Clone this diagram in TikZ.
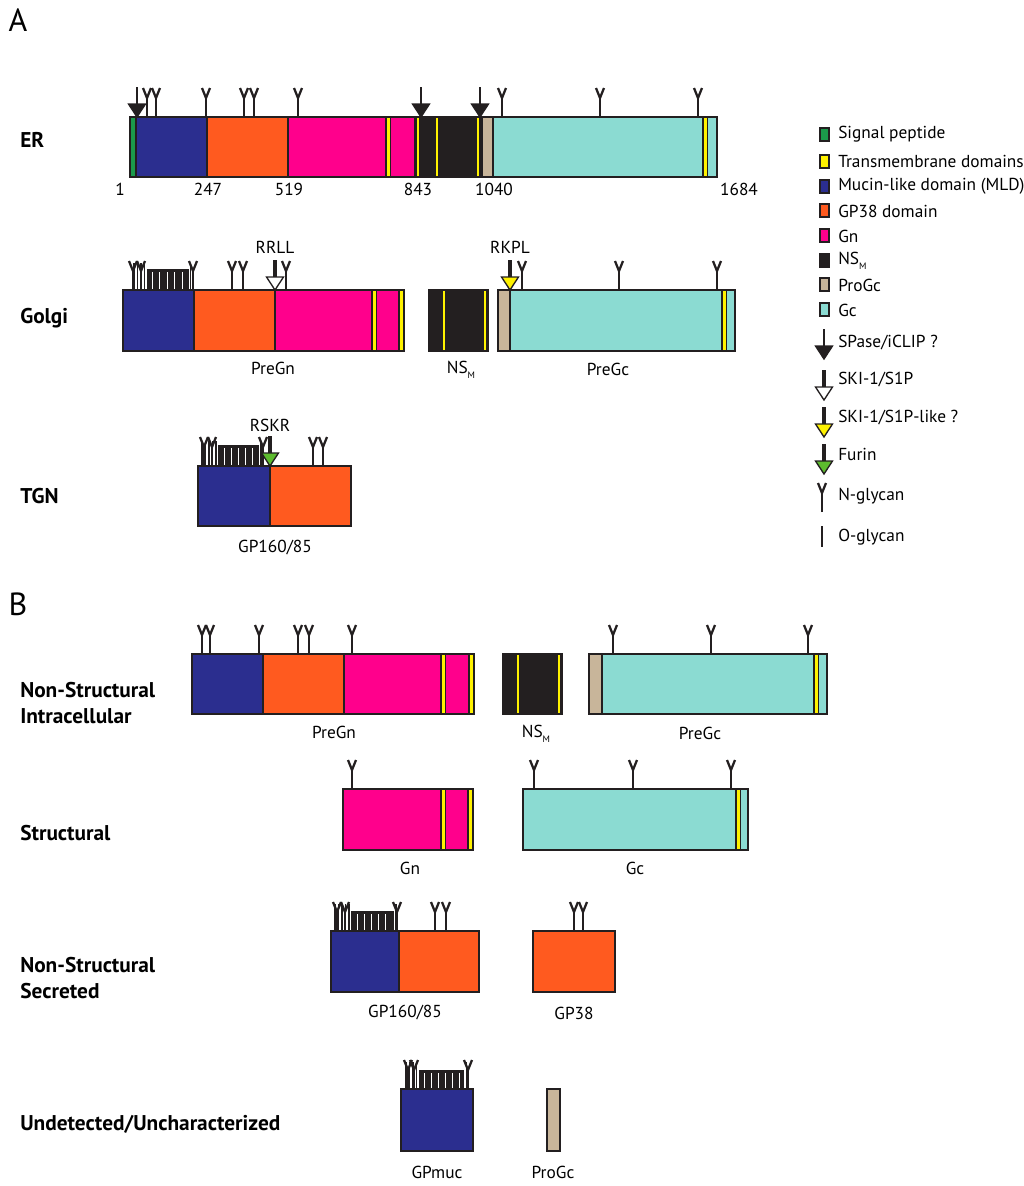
\documentclass[tikz,border=0pt]{standalone}
\usepackage{fontspec}
\setmainfont{PT Sans}
\definecolor{cgreen}{HTML}{1B9A4B}
\definecolor{cyel}{HTML}{FFF200}
\definecolor{cblue}{HTML}{2B2E8F}
\definecolor{corange}{HTML}{FF5A1F}
\definecolor{cpink}{HTML}{FF008C}
\definecolor{cblack}{HTML}{231F20}
\definecolor{ctan}{HTML}{C8B59A}
\definecolor{ccyan}{HTML}{8BDBD2}
\definecolor{cfurin}{HTML}{5DBB2E}
% N-glycan: x, bar top
\newcommand{\Ng}[2]{\draw[glyc] (#1,#2) -- (#1,#2-19);\draw[glyc,line join=miter] (#1-4,#2-29) -- (#1,#2-19) -- (#1+4,#2-29);}
% O-glycan: x, bar top, height
\newcommand{\Og}[3]{\draw[ogl] (#1,#2) -- (#1,#2-#3);}
% dense O-glycan block: x0, x1, bar top, block top, gap list
\newcommand{\Oblock}[5]{\fill[cblack] (#1,#3) rectangle (#2,#4);\foreach \g in {#5} {\draw[white,line width=0.4pt] (\g,#4+3) -- (\g,#3-1);}}
% transmembrane: x, top, bottom
\newcommand{\TM}[3]{\fill[cblack] (#1-3,#2) rectangle (#1+3,#3);\fill[cyel] (#1-1.5,#2) rectangle (#1+1.5,#3);}
% yellow line in black region
\newcommand{\TY}[3]{\fill[cyel] (#1-1.1,#2+1) rectangle (#1+1.1,#3-1);}
% cleavage arrow: x, bar top, fill colour, stem width
\newcommand{\Cl}[4]{\draw[line width=#4,cblack] (#1,#2-30) -- (#1,#2-11);\draw[fill=#3,draw=cblack,line width=1pt,line join=miter] (#1-8.5,#2-13) -- (#1+8.5,#2-13) -- (#1,#2) -- cycle;}
\newcommand{\NSM}{NS\raisebox{-0.6ex}{\fontsize{7}{8}\selectfont M}}
\begin{document}
\begin{tikzpicture}[x=0.75pt,y=-0.75pt,
  seg/.style={draw=cblack,line width=1.5pt},
  glyc/.style={draw=cblack,line width=1.7pt},
  ogl/.style={draw=cblack,line width=1.4pt},
  txt/.style={font=\fontsize{13}{15}\selectfont,inner sep=0pt},
  rowlab/.style={font=\fontsize{16}{19}\selectfont\bfseries,inner sep=0pt,anchor=west,align=left},
  panel/.style={font=\fontsize{24}{26}\selectfont,inner sep=0pt},
  legbox/.style={draw=cblack,line width=1.2pt}]
\useasboundingbox (0,0) rectangle (1024,1186);

% panel letters
\node[panel] (pA) at (18,20) {A};
\node[panel] (pB) at (18,604) {B};

% row labels
\node[rowlab] (lER) at (20,140) {ER};
\node[rowlab] (lGolgi) at (20,318) {Golgi};
\node[rowlab] (lTGN) at (20,496) {TGN};
\node[rowlab] (lNSI) at (20,703) {Non-Structural\\Intracellular};
\node[rowlab] (lS) at (20,833) {Structural};
\node[rowlab] (lNSS) at (20,978) {Non-Structural\\Secreted};
\node[rowlab] (lU) at (20,1124) {Undetected/Uncharacterized};

% ================= ER =================
\draw[seg,fill=cgreen] (130,117) rectangle (136,177);
\draw[seg,fill=cblue] (136,117) rectangle (207,177);
\draw[seg,fill=corange] (207,117) rectangle (288,177);
\draw[seg,fill=cpink] (288,117) rectangle (415,177);
\draw[seg,fill=cblack] (415,117) rectangle (482,177);
\draw[seg,fill=ctan] (482,117) rectangle (493,177);
\draw[seg,fill=ccyan] (493,117) rectangle (717,177);
\TM{388}{118}{176}
\TM{705}{118}{176}
\TY{418}{117}{177}
\TY{437}{117}{177}
\TY{478}{117}{177}
\foreach \x in {147,156,206,244,254,298,502,600,698} {\Ng{\x}{117}}
\Cl{137}{117}{cblack}{1.5pt}
\Cl{421}{117}{cblack}{1.5pt}
\Cl{480}{117}{cblack}{1.5pt}
\node[txt] (n1) at (120,189) {1};
\node[txt] (n247) at (208,189) {247};
\node[txt] (n519) at (289,189) {519};
\node[txt] (n843) at (418,189) {843};
\node[txt] (n1040) at (494,189) {1040};
\node[txt] (n1684) at (739,189) {1684};

% ================= Golgi =================
\foreach \x in {134,137.5,141,144.5} {\Og{\x}{290}{27}}
\Oblock{146.5}{189}{290}{269}{152,159,167,174,182}
\Og{190.5}{290}{27}
\Ng{133}{290}\Ng{141}{290}\Ng{193}{290}
\draw[seg,fill=cblue] (123,290) rectangle (194,351);
\draw[seg,fill=corange] (194,290) rectangle (275,351);
\draw[seg,fill=cpink] (275,290) rectangle (404,351);
\TM{374}{291}{350}
\TM{401}{291}{350}
\foreach \x in {232,243,286,522,619,717} {\Ng{\x}{290}}
\Cl{275}{290}{white}{3pt}
\node[txt] (rrll) at (275,247) {RRLL};
\draw[seg,fill=cblack] (429,290) rectangle (488,351);
\TY{444}{290}{351}
\TY{485}{290}{351}
\draw[seg,fill=ctan] (498,290) rectangle (510,351);
\draw[seg,fill=ccyan] (510,290) rectangle (735,351);
\TM{724}{291}{350}
\Cl{510}{290}{cyel}{3pt}
\node[txt] (rkpl) at (510,247) {RKPL};
\node[txt] (gPreGn) at (273,368) {PreGn};
\node[txt] (gNSM) at (461,370) {\NSM};
\node[txt] (gPreGc) at (608,369) {PreGc};

% ================= TGN =================
\foreach \x in {202,205.5,209,212.5,216} {\Og{\x}{466}{25}}
\Oblock{218}{259}{466}{445}{224,231,238,245,252}
\Og{261}{466}{25}
\Ng{204}{466}\Ng{212}{466}\Ng{263}{466}
\draw[seg,fill=cblue] (198,466) rectangle (270,526);
\draw[seg,fill=corange] (270,466) rectangle (351,526);
\Ng{313}{466}\Ng{323}{466}
\Cl{270}{466}{cfurin}{3pt}
\node[txt] (rskr) at (270,425) {RSKR};
\node[txt] (tGP) at (275,548) {GP160/85};

% ================= Legend =================
\draw[legbox,fill=cgreen] (820,128) rectangle (829,141);
\draw[legbox,fill=cyel] (820,155) rectangle (829,168);
\draw[legbox,fill=cblue] (820,180) rectangle (829,193);
\draw[legbox,fill=corange] (820,204) rectangle (829,217);
\draw[legbox,fill=cpink] (820,229) rectangle (829,242);
\draw[legbox,fill=cblack] (820,254) rectangle (829,267);
\draw[legbox,fill=ctan] (820,278) rectangle (829,291);
\draw[legbox,fill=ccyan] (820,303) rectangle (829,316);
\node[txt,anchor=west] (lg1) at (838,134) {Signal peptide};
\node[txt,anchor=west] (lg2) at (838,161) {Transmembrane domains};
\node[txt,anchor=west] (lg3) at (838,186) {Mucin-like domain (MLD)};
\node[txt,anchor=west] (lg4) at (838,211) {GP38 domain};
\node[txt,anchor=west] (lg5) at (838,236) {Gn};
\node[txt,anchor=west] (lg6) at (838,261) {\NSM};
\node[txt,anchor=west] (lg7) at (838,285) {ProGc};
\node[txt,anchor=west] (lg8) at (838,310) {Gc};
\Cl{824}{359}{cblack}{1.5pt}
\Cl{824}{400}{white}{3pt}
\Cl{824}{437}{cyel}{3pt}
\Cl{824}{474}{cfurin}{3pt}
\Ng{822}{512}
\draw[glyc] (822,526) -- (822,547);
\node[txt,anchor=west] (lg9) at (838,343) {SPase/iCLIP ?};
\node[txt,anchor=west] (lg10) at (838,380) {SKI-1/S1P};
\node[txt,anchor=west] (lg11) at (838,418) {SKI-1/S1P-like ?};
\node[txt,anchor=west] (lg12) at (838,454) {Furin};
\node[txt,anchor=west] (lg13) at (838,496) {N-glycan};
\node[txt,anchor=west] (lg14) at (838,537) {O-glycan};

% ================= B: intracellular =================
\draw[seg,fill=cblue] (192,654) rectangle (263,714);
\draw[seg,fill=corange] (263,654) rectangle (344,714);
\draw[seg,fill=cpink] (344,654) rectangle (474,714);
\TM{443}{655}{713}
\TM{471}{655}{713}
\foreach \x in {202,210,259,298,309,352} {\Ng{\x}{654}}
\draw[seg,fill=cblack] (503,654) rectangle (562,714);
\TY{518}{654}{714}
\TY{559}{654}{714}
\draw[seg,fill=ctan] (589,654) rectangle (602,714);
\draw[seg,fill=ccyan] (602,654) rectangle (827,714);
\TM{816}{655}{713}
\foreach \x in {613,711,808} {\Ng{\x}{654}}
\node[txt] (bPreGn) at (334,732) {PreGn};
\node[txt] (bNSM) at (536,734) {\NSM};
\node[txt] (bPreGc) at (700,733) {PreGc};

% ================= B: structural =================
\draw[seg,fill=cpink] (343,789) rectangle (473,850);
\TM{443}{790}{849}
\TM{470}{790}{849}
\Ng{352}{789}
\draw[seg,fill=ccyan] (523,789) rectangle (748,850);
\TM{738}{790}{849}
\foreach \x in {534,633,731} {\Ng{\x}{789}}
\node[txt] (bGn) at (410,868) {Gn};
\node[txt] (bGc) at (635,868) {Gc};

% ================= B: secreted =================
\foreach \x in {335,338.5,342,345.5,349} {\Og{\x}{931}{27}}
\Oblock{351}{394}{931}{911}{357,364,371,378,385}
\Og{396}{931}{27}
\Ng{337}{931}\Ng{345}{931}\Ng{397}{931}
\draw[seg,fill=cblue] (331,931) rectangle (399,992);
\draw[seg,fill=corange] (399,931) rectangle (479,992);
\Ng{435}{931}\Ng{446}{931}
\draw[seg,fill=corange] (533,931) rectangle (615,992);
\Ng{574}{931}\Ng{583}{931}
\node[txt] (bGP160) at (405,1013) {GP160/85};
\node[txt] (bGP38) at (574,1013) {GP38};

% ================= B: undetected =================
\foreach \x in {406,409.5,413,416.5} {\Og{\x}{1089}{27}}
\Oblock{418.5}{464}{1089}{1070}{424,431,438,445,452,459}
\Og{466.5}{1089}{27}
\Ng{408}{1089}\Ng{414}{1089}\Ng{468}{1089}
\draw[seg,fill=cblue] (401,1089) rectangle (473,1151);
\draw[seg,fill=ctan] (547,1089) rectangle (560,1151);
\node[txt] (bGPmuc) at (437,1172) {GPmuc};
\node[txt] (bProGc) at (553,1172) {ProGc};
\end{tikzpicture}
\end{document}
